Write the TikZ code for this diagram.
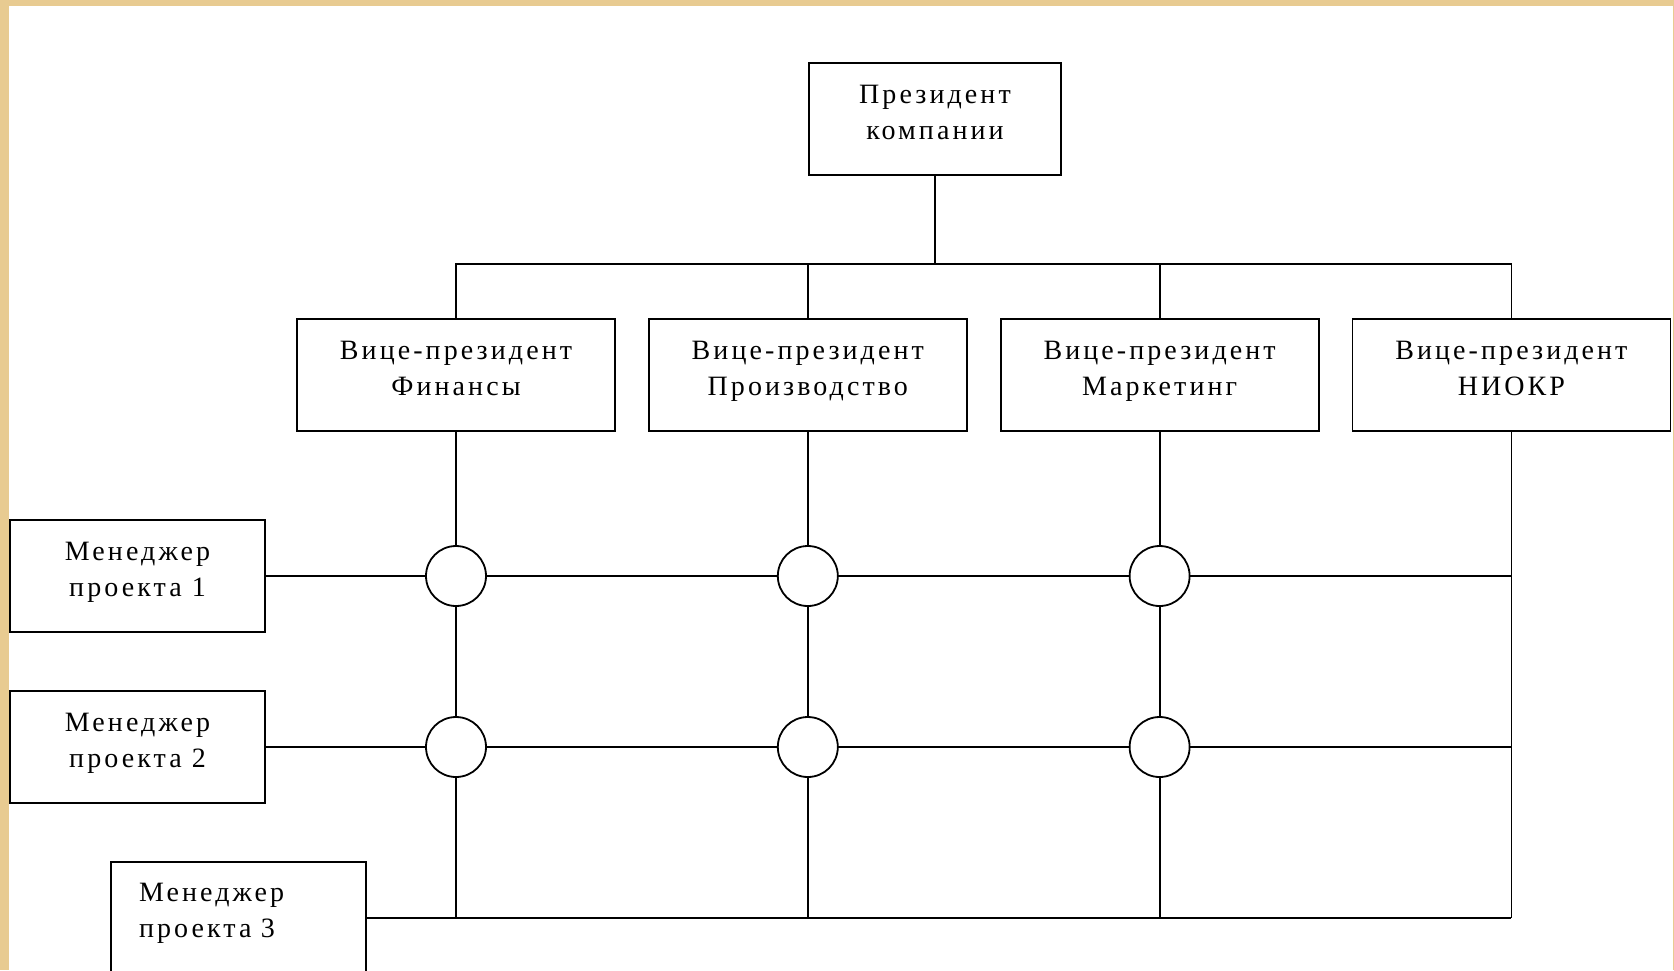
\documentclass[tikz,border=0pt]{standalone}
\usepackage{fontspec}
\setmainfont{Liberation Serif}[LetterSpace=11]
\usetikzlibrary{positioning}
\definecolor{frametan}{RGB}{232,203,145}

\tikzset{
	post/.style={draw, line width=0.9pt, align=center, inner sep=0pt,
		font=\fontsize{14}{18}\selectfont, minimum height=56pt,
		text height=28pt, text depth=8pt},
	vpbox/.style={post, minimum width=159pt},
	mgrbox/.style={post, minimum width=127.5pt},
	link/.style={line width=0.9pt},
	cross/.style={draw, circle, fill=white, line width=0.9pt, minimum size=30pt, inner sep=0pt}
}

\begin{document}
\begin{tikzpicture}[x=0.5pt, y=-0.5pt]
	%%%%% FRAME %%%%%
	\useasboundingbox (0, 0) rectangle (1674, 970);
	\clip (0, 0) rectangle (1674, 970);
	\fill[frametan] (0, 0) rectangle (1674, 970);
	\fill[white] (9, 6) rectangle (1673, 970);
	
	%%%%% BOXES %%%%%
	\node[post, minimum width=126pt] (pres) at (935, 119) {Президент\\компании};
	
	\node[vpbox] (vpfin) at (456, 375) {Вице-президент\\Финансы};
	\node[vpbox, right=16pt of vpfin] (vpprod) {Вице-президент\\Производство};
	\node[vpbox, right=16pt of vpprod] (vpmkt) {Вице-президент\\Маркетинг};
	\node[vpbox, right=16pt of vpmkt] (vprnd) {Вице-президент\\НИОКР};
	
	\node[mgrbox] (mgr1) at (137.5, 576) {Менеджер\\проекта 1};
	\node[mgrbox] (mgr2) at (137.5, 747) {Менеджер\\проекта 2};
	\node[mgrbox, align=left, text width=99.5pt, inner xsep=14pt,
		text height=9pt, text depth=25.8pt] (mgr3) at (238.5, 918) {Менеджер\\проекта 3};
	
	%%%%% TREE %%%%%
	\coordinate (bus) at (935, 264);
	\draw[link] (pres.south) -- (bus);
	\draw[link] (vpfin.north) |- (bus) -| (vprnd.north);
	\draw[link] (vpprod.north) -- (vpprod.north |- bus);
	\draw[link] (vpmkt.north) -- (vpmkt.north |- bus);
	
	%%%%% MATRIX %%%%%
	\foreach \vp in {vpfin, vpprod, vpmkt, vprnd}
		\draw[link] (\vp.south) -- (\vp.south |- mgr3.east);
	\foreach \m in {mgr1, mgr2, mgr3}
		\draw[link] (\m.east) -- (\m.east -| vprnd.south);
	
	\foreach \m/\r in {mgr1/1, mgr2/2}
		\foreach \vp/\c in {vpfin/1, vpprod/2, vpmkt/3}
			\node[cross] (x\r\c) at (\vp.south |- \m.east) {};
	
\end{tikzpicture}
\end{document}
